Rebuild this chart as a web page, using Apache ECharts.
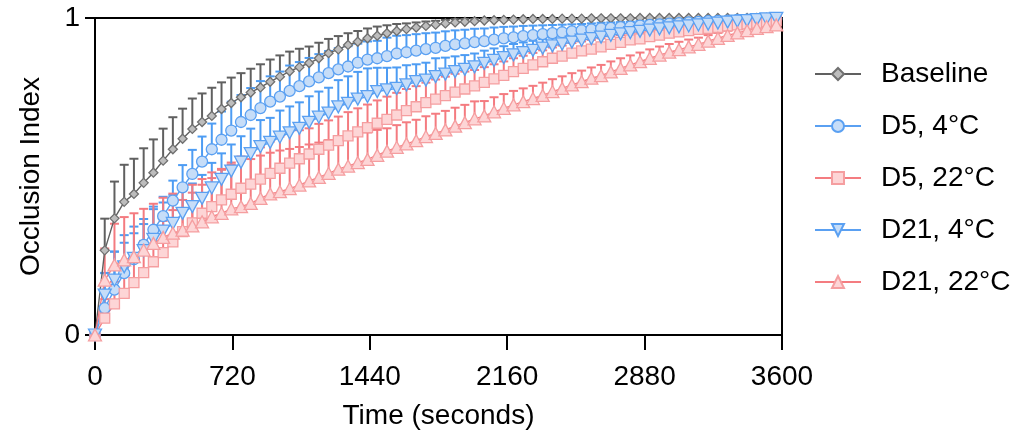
<!DOCTYPE html>
<html>
<head>
<meta charset="utf-8">
<script src="https://cdn.jsdelivr.net/npm/echarts@6/dist/echarts.min.js"></script>
<style>
  html, body { margin: 0; padding: 0; background: #fff; }
  #chart { width: 1020px; height: 440px; }
</style>
</head>
<body>
<div id="chart"></div>
<script>
// time points (seconds)
var times = [
  0, 51, 102, 153, 204, 255, 306, 357, 408, 459,
  510, 561, 612, 663, 714, 765, 816, 867, 918, 969,
  1020, 1071, 1122, 1173, 1224, 1275, 1326, 1377, 1428, 1479,
  1530, 1581, 1632, 1683, 1734, 1785, 1836, 1887, 1938, 1989,
  2040, 2091, 2142, 2193, 2244, 2295, 2346, 2397, 2448, 2499,
  2550, 2601, 2652, 2703, 2754, 2805, 2856, 2907, 2958, 3009,
  3060, 3111, 3162, 3213, 3264, 3315, 3366, 3417, 3468, 3519,
  3570
];
var xTicks = [0, 720, 1440, 2160, 2880, 3600];
var yTicks = [0, 1];

// mean occlusion index
var baseline = [
  0, 0.267, 0.368, 0.42, 0.445, 0.48, 0.512, 0.55, 0.586, 0.619,
  0.65, 0.672, 0.691, 0.713, 0.732, 0.75, 0.765, 0.781, 0.799, 0.815,
  0.832, 0.845, 0.858, 0.873, 0.889, 0.901, 0.915, 0.925, 0.936, 0.944,
  0.952, 0.959, 0.965, 0.97, 0.975, 0.979, 0.983, 0.986, 0.988, 0.99,
  0.992, 0.993, 0.994, 0.995, 0.996, 0.997, 0.997, 0.997, 0.998, 0.998,
  0.998, 0.999, 0.999, 0.999, 0.999, 0.999, 1, 1, 1, 1,
  1, 1, 1, 1, 1, 1, 1, 1, 1, 1,
  1
];
var d5c4 = [
  0, 0.085, 0.143, 0.195, 0.239, 0.284, 0.332, 0.375, 0.424, 0.466,
  0.508, 0.547, 0.586, 0.616, 0.645, 0.672, 0.694, 0.716, 0.736, 0.752,
  0.77, 0.785, 0.8, 0.813, 0.826, 0.838, 0.847, 0.859, 0.869, 0.873,
  0.88, 0.888, 0.892, 0.897, 0.902, 0.906, 0.912, 0.917, 0.92, 0.924,
  0.927, 0.932, 0.936, 0.939, 0.943, 0.946, 0.949, 0.952, 0.955, 0.958,
  0.961, 0.964, 0.967, 0.969, 0.971, 0.973, 0.976, 0.978, 0.98, 0.982,
  0.984, 0.986, 0.988, 0.99, 0.991, 0.992, 0.994, 0.995, 0.996, 0.997,
  0.998
];
var d5c22 = [
  0, 0.053, 0.098, 0.131, 0.165, 0.197, 0.231, 0.26, 0.294, 0.326,
  0.354, 0.384, 0.405, 0.426, 0.444, 0.463, 0.476, 0.492, 0.51, 0.526,
  0.542, 0.556, 0.571, 0.586, 0.599, 0.613, 0.628, 0.641, 0.654, 0.668,
  0.68, 0.694, 0.708, 0.72, 0.733, 0.744, 0.755, 0.766, 0.776, 0.786,
  0.797, 0.808, 0.819, 0.831, 0.841, 0.852, 0.862, 0.873, 0.88, 0.889,
  0.896, 0.902, 0.909, 0.917, 0.923, 0.931, 0.934, 0.941, 0.946, 0.952,
  0.956, 0.96, 0.964, 0.967, 0.97, 0.975, 0.978, 0.981, 0.984, 0.988,
  0.991
];
var d21c4 = [
  0, 0.126, 0.173, 0.215, 0.242, 0.266, 0.302, 0.328, 0.352, 0.384,
  0.405, 0.431, 0.464, 0.491, 0.517, 0.545, 0.572, 0.594, 0.608, 0.624,
  0.638, 0.652, 0.671, 0.687, 0.7, 0.72, 0.731, 0.744, 0.752, 0.768,
  0.773, 0.778, 0.789, 0.799, 0.804, 0.815, 0.823, 0.831, 0.838, 0.846,
  0.857, 0.866, 0.875, 0.884, 0.891, 0.898, 0.905, 0.912, 0.918, 0.924,
  0.93, 0.935, 0.94, 0.945, 0.95, 0.954, 0.958, 0.962, 0.966, 0.969,
  0.972, 0.975, 0.978, 0.981, 0.984, 0.987, 0.99, 0.992, 0.995, 0.997,
  0.999
];
var d21c22 = [
  0, 0.173, 0.221, 0.237, 0.247, 0.268, 0.289, 0.308, 0.321, 0.331,
  0.344, 0.357, 0.373, 0.384, 0.398, 0.405, 0.415, 0.431, 0.445, 0.452,
  0.462, 0.473, 0.486, 0.497, 0.51, 0.523, 0.533, 0.544, 0.554, 0.567,
  0.58, 0.592, 0.603, 0.613, 0.626, 0.636, 0.647, 0.659, 0.67, 0.682,
  0.691, 0.704, 0.715, 0.726, 0.736, 0.746, 0.756, 0.768, 0.778, 0.789,
  0.799, 0.81, 0.818, 0.83, 0.841, 0.852, 0.862, 0.873, 0.883, 0.892,
  0.9, 0.909, 0.917, 0.927, 0.936, 0.945, 0.953, 0.96, 0.967, 0.973,
  0.978
];

// upper error (SEM)
var baselineErr = [
  0, 0.1, 0.116, 0.117, 0.111, 0.109, 0.105, 0.101, 0.101, 0.095,
  0.096, 0.09, 0.089, 0.084, 0.08, 0.076, 0.075, 0.073, 0.07, 0.067,
  0.062, 0.058, 0.052, 0.049, 0.045, 0.042, 0.037, 0.034, 0.031, 0.029,
  0.025, 0.022, 0.018, 0.016, 0.014, 0.012, 0.011, 0.01, 0.009, 0.008,
  0.007, 0.006, 0.006, 0.005, 0.004, 0.003, 0.003, 0.003, 0.002, 0.002,
  0.002, 0.001, 0.001, 0.001, 0.001, 0.001, 0, 0, 0, 0,
  0, 0, 0, 0, 0, 0, 0, 0, 0, 0,
  0
];
var d5c4Err = [
  0, 0.11, 0.12, 0.096, 0.082, 0.066, 0.073, 0.061, 0.063, 0.07,
  0.076, 0.079, 0.081, 0.089, 0.091, 0.085, 0.085, 0.085, 0.08, 0.079,
  0.08, 0.076, 0.074, 0.073, 0.07, 0.067, 0.064, 0.06, 0.057, 0.055,
  0.058, 0.056, 0.054, 0.052, 0.05, 0.048, 0.046, 0.044, 0.043, 0.042,
  0.04, 0.038, 0.036, 0.034, 0.032, 0.03, 0.028, 0.026, 0.024, 0.022,
  0.02, 0.019, 0.018, 0.017, 0.016, 0.015, 0.014, 0.013, 0.012, 0.011,
  0.01, 0.009, 0.008, 0.007, 0.007, 0.006, 0.005, 0.004, 0.004, 0.003,
  0.002
];
var d5c22Err = [
  0, 0.06, 0.07, 0.08, 0.09, 0.1, 0.1, 0.1, 0.1, 0.1,
  0.095, 0.09, 0.09, 0.095, 0.1, 0.1, 0.1, 0.1, 0.1, 0.1,
  0.1, 0.09, 0.081, 0.08, 0.078, 0.076, 0.075, 0.074, 0.073, 0.072,
  0.072, 0.07, 0.068, 0.065, 0.063, 0.062, 0.06, 0.058, 0.055, 0.05,
  0.048, 0.046, 0.044, 0.042, 0.04, 0.038, 0.036, 0.034, 0.033, 0.032,
  0.03, 0.029, 0.027, 0.025, 0.023, 0.021, 0.019, 0.017, 0.015, 0.014,
  0.013, 0.012, 0.011, 0.01, 0.009, 0.008, 0.007, 0.006, 0.005, 0.004,
  0.003
];
var d21c4Err = [
  0, 0.07, 0.09, 0.1, 0.1, 0.1, 0.095, 0.09, 0.09, 0.085,
  0.073, 0.074, 0.079, 0.082, 0.084, 0.082, 0.079, 0.084, 0.077, 0.084,
  0.083, 0.082, 0.082, 0.081, 0.08, 0.084, 0.085, 0.086, 0.089, 0.075,
  0.07, 0.066, 0.062, 0.055, 0.055, 0.058, 0.052, 0.048, 0.045, 0.042,
  0.04, 0.038, 0.036, 0.034, 0.032, 0.03, 0.028, 0.026, 0.025, 0.024,
  0.022, 0.021, 0.02, 0.019, 0.018, 0.017, 0.016, 0.015, 0.014, 0.013,
  0.012, 0.011, 0.01, 0.009, 0.008, 0.007, 0.006, 0.005, 0.004, 0.003,
  0.001
];
var d21c22Err = [
  0, 0.1, 0.13, 0.135, 0.137, 0.13, 0.125, 0.125, 0.125, 0.13,
  0.13, 0.135, 0.14, 0.14, 0.14, 0.145, 0.14, 0.135, 0.13, 0.13,
  0.125, 0.12, 0.115, 0.11, 0.105, 0.1, 0.095, 0.09, 0.085, 0.08,
  0.072, 0.07, 0.068, 0.066, 0.064, 0.062, 0.06, 0.058, 0.056, 0.055,
  0.047, 0.046, 0.045, 0.044, 0.042, 0.04, 0.04, 0.039, 0.038, 0.037,
  0.035, 0.034, 0.034, 0.033, 0.032, 0.03, 0.029, 0.028, 0.027, 0.026,
  0.025, 0.023, 0.021, 0.019, 0.017, 0.015, 0.013, 0.012, 0.01, 0.009,
  0.008
];

var FONT = 'Liberation Sans, Arial, sans-serif';
var BLUE = '#5aa0f2', BLUE_FILL = '#c6ddf8', BLUE_BAR = '#4d9cf3';
var RED = '#f47c80', RED_BORDER = '#f59ea0', RED_FILL = '#fdd5d6', RED_BAR = '#f47b80';
var GREY = '#606060';

function pairs(vals) {
  return times.map(function (t, i) { return [t, vals[i]]; });
}

function errorBars(vals, errs, color) {
  return {
    type: 'custom',
    silent: true,
    clip: true,
    encode: { x: 0, y: [1, 2] },
    data: times.map(function (t, i) { return [t, vals[i], vals[i] + errs[i]]; })
      .filter(function (d, i) { return errs[i] > 0; }),
    renderItem: function (params, api) {
      var p0 = api.coord([api.value(0), api.value(1)]);
      var p1 = api.coord([api.value(0), api.value(2)]);
      var hw = 4.5;
      return {
        type: 'group',
        children: [
          { type: 'line', shape: { x1: p0[0], y1: p0[1], x2: p1[0], y2: p1[1] },
            style: { stroke: color, lineWidth: 2 } },
          { type: 'line', shape: { x1: p1[0] - hw, y1: p1[1], x2: p1[0] + hw, y2: p1[1] },
            style: { stroke: color, lineWidth: 2 } }
        ]
      };
    }
  };
}

function lineSeries(name, vals, symbol, size, fill, border, lineColor) {
  return {
    name: name,
    type: 'line',
    data: pairs(vals),
    symbol: symbol,
    symbolSize: size,
    showAllSymbol: true,
    lineStyle: { color: lineColor, width: 1.4 },
    itemStyle: { color: fill, borderColor: border, borderWidth: 1.3 },
    emphasis: { disabled: true }
  };
}

var downTri = 'path://M0,0 L10,0 L5,9 Z';

var chart = echarts.init(document.getElementById('chart'), null, { renderer: 'canvas' });
chart.setOption({
  animation: false,
  backgroundColor: '#fff',
  grid: {
    left: 95, right: 238, top: 18, bottom: 105,
    show: true, borderColor: '#000', borderWidth: 2
  },
  legend: {
    orient: 'vertical',
    left: 809, top: 54,
    itemWidth: 46, itemHeight: 15,
    itemGap: 22,
    data: ['Baseline', 'D5, 4°C', 'D5, 22°C', 'D21, 4°C', 'D21, 22°C'],
    textStyle: { fontFamily: FONT, fontSize: 28, color: '#000', lineHeight: 30, padding: [0, 0, 0, 15] }
  },
  xAxis: {
    type: 'value', min: 0, max: 3600, interval: 720,
    name: 'Time (seconds)', nameLocation: 'middle', nameGap: 67,
    nameTextStyle: { fontFamily: FONT, fontSize: 28, color: '#000' },
    axisLine: { onZero: false, lineStyle: { color: '#000', width: 2 } },
    axisTick: { length: 15, lineStyle: { color: '#000', width: 2 } },
    axisLabel: {
      fontFamily: FONT, fontSize: 28, color: '#000', margin: 28,
      showMinLabel: true, showMaxLabel: true,
      formatter: function (v) { return xTicks.indexOf(v) >= 0 ? String(v) : ''; }
    },
    splitLine: { show: false }
  },
  yAxis: {
    type: 'value', min: 0, max: 1, interval: 1,
    name: 'Occlusion Index', nameLocation: 'middle', nameGap: 50,
    nameTextStyle: { fontFamily: FONT, fontSize: 28, color: '#000' },
    axisLine: { lineStyle: { color: '#000', width: 2 } },
    axisTick: { length: 10, lineStyle: { color: '#000', width: 2 } },
    axisLabel: {
      fontFamily: FONT, fontSize: 28, color: '#000', margin: 15,
      formatter: function (v) { return yTicks.indexOf(v) >= 0 ? String(v) : ''; }
    },
    splitLine: { show: false }
  },
  series: [
    errorBars(baseline, baselineErr, GREY),
    lineSeries('Baseline', baseline, 'diamond', 9, '#bdbdbd', '#707070', GREY),
    errorBars(d5c4, d5c4Err, BLUE_BAR),
    lineSeries('D5, 4°C', d5c4, 'circle', 11, BLUE_FILL, BLUE, BLUE),
    errorBars(d5c22, d5c22Err, RED_BAR),
    lineSeries('D5, 22°C', d5c22, 'rect', 10, RED_FILL, RED_BORDER, RED),
    errorBars(d21c4, d21c4Err, BLUE_BAR),
    lineSeries('D21, 4°C', d21c4, downTri, [13, 12], BLUE_FILL, BLUE, BLUE),
    errorBars(d21c22, d21c22Err, RED_BAR),
    lineSeries('D21, 22°C', d21c22, 'triangle', [13, 12], RED_FILL, RED_BORDER, RED)
  ]
});
</script>
</body>
</html>
